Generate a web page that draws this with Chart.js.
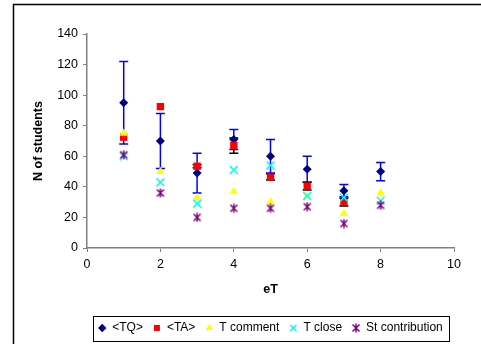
<!DOCTYPE html>
<html>
<head>
<meta charset="utf-8">
<script src="https://cdn.jsdelivr.net/npm/chart.js@4"></script>
<style>
  body { margin: 0; background: #fff; }
  #wrap { width: 481px; height: 344px; }
</style>
</head>
<body>
<div id="wrap"><canvas id="myChart" width="481" height="344"></canvas></div>
<script>
// x positions (eT)
var eT = [1, 2, 3, 4, 5, 6, 7, 8];

// series values
var tq = [95, 70, 49, 71, 60, 51.5, 37.5, 50];
var tqErr = [27, 18, 13, 6.5, 11, 8.5, 4, 6];
var ta = [72.5, 92.5, 53.5, 67, 46.5, 40.5, 30];
var taErr = [0, 0, 1, 5, 2, 2.5, 2.5];
var tComment = [75, 50, 33, 37, 30, 34, 22.5, 36];
var tClose = [60, 43, 29, 51, 54, 34, 33, 31];
var stContribution = [61, 36, 20, 26, 26, 27, 16, 28];

var yTicks = [0, 20, 40, 60, 80, 100, 120, 140];
var xTicks = [0, 2, 4, 6, 8, 10];

function pts(ys) {
    return ys.map(function (y, i) { return { x: eT[i], y: y }; });
}

var fontFamily = "'Liberation Sans', Arial, sans-serif";

// Excel style asterisk marker (x with a vertical stroke)
var asterisk = document.createElement('canvas');
asterisk.width = 10;
asterisk.height = 10;
(function () {
    var c = asterisk.getContext('2d');
    c.strokeStyle = '#800080';
    c.lineWidth = 1.5;
    c.beginPath();
    c.moveTo(1.5, 1.5); c.lineTo(8.5, 8.5);
    c.moveTo(8.5, 1.5); c.lineTo(1.5, 8.5);
    c.moveTo(5, 0.5); c.lineTo(5, 9.5);
    c.stroke();
})();

// error bars drawn under the markers
var errorBars = {
    id: 'errorBars',
    beforeDatasetsDraw: function (chart) {
        var ctx = chart.ctx;
        var xs = chart.scales.x, ys = chart.scales.y;
        var sets = [
            { vals: tq, err: tqErr, color: '#0000ff' },
            { vals: ta, err: taErr, color: '#000000' }
        ];
        ctx.save();
        sets.forEach(function (s) {
            ctx.strokeStyle = s.color;
            ctx.lineWidth = 1.5;
            s.vals.forEach(function (v, i) {
                if (!s.err[i]) return;
                var px = xs.getPixelForValue(eT[i]);
                var top = ys.getPixelForValue(v + s.err[i]);
                var bot = ys.getPixelForValue(v - s.err[i]);
                ctx.beginPath();
                ctx.moveTo(px, top); ctx.lineTo(px, bot);
                ctx.moveTo(px - 4.5, top); ctx.lineTo(px + 4.5, top);
                ctx.moveTo(px - 4.5, bot); ctx.lineTo(px + 4.5, bot);
                ctx.stroke();
            });
        });
        ctx.restore();
    }
};

// outer frame and legend box
var frames = {
    id: 'frames',
    afterDraw: function (chart) {
        var ctx = chart.ctx;
        ctx.save();
        ctx.strokeStyle = '#000';
        ctx.lineWidth = 1.5;
        ctx.strokeRect(13.5, 4.5, chart.width, chart.height);
        var boxes = chart.legend.legendHitBoxes;
        if (boxes && boxes.length) {
            var l = boxes[0].left, r = boxes[boxes.length - 1].left + boxes[boxes.length - 1].width;
            var t = boxes[0].top;
            ctx.lineWidth = 1;
            ctx.strokeRect(Math.round(l) - 4.5, Math.round(t) - 5.5, Math.round(r - l) + 11, 25);
        }
        ctx.restore();
    }
};

var ctx = document.getElementById('myChart').getContext('2d');
var myChart = new Chart(ctx, {
    type: 'scatter',
    data: {
        datasets: [{
            label: '<TQ>',
            data: pts(tq),
            pointStyle: 'rectRot',
            pointRadius: 4.5,
            backgroundColor: '#000080',
            borderColor: '#000080',
            borderWidth: 0,
            order: 5
        },
        {
            label: '<TA>',
            data: pts(ta),
            pointStyle: 'rect',
            pointRadius: 5.2,
            backgroundColor: '#ff0000',
            borderColor: '#ff0000',
            borderWidth: 0,
            order: 4
        },
        {
            label: 'T comment',
            data: pts(tComment),
            pointStyle: 'triangle',
            pointRadius: 4.8,
            backgroundColor: '#ffff00',
            borderColor: '#ffff00',
            borderWidth: 0,
            order: 3
        },
        {
            label: 'T close',
            data: pts(tClose),
            pointStyle: 'crossRot',
            pointRadius: 5.5,
            backgroundColor: '#00ffff',
            borderColor: '#00ffff',
            borderWidth: 1.5,
            order: 2
        },
        {
            label: 'St contribution',
            data: pts(stContribution),
            pointStyle: asterisk,
            pointRadius: 5,
            backgroundColor: '#800080',
            borderColor: '#800080',
            borderWidth: 1.5,
            order: 1
        }]
    },
    options: {
        responsive: false,
        animation: false,
        layout: { padding: { left: 14, right: 27, top: 34, bottom: 0 } },
        plugins: {
            tooltip: { enabled: false },
            legend: {
                position: 'bottom',
                fullSize: false,
                labels: {
                    usePointStyle: true,
                    boxWidth: 8,
                    boxHeight: 6,
                    padding: 10,
                    color: '#000',
                    font: { family: fontFamily, size: 12 },
                    sort: function (a, b) { return a.datasetIndex - b.datasetIndex; }
                }
            }
        },
        scales: {
            x: {
                type: 'linear',
                min: 0,
                max: 10,
                afterFit: function (scale) { scale.height = 64; },
                afterBuildTicks: function (scale) {
                    scale.ticks = xTicks.map(function (v) { return { value: v }; });
                },
                grid: { drawOnChartArea: false, color: '#808080', tickLength: 4 },
                border: { color: '#808080', width: 1.5 },
                ticks: { color: '#000', padding: 5, font: { family: fontFamily, size: 12.5 } },
                title: {
                    display: true,
                    text: 'eT',
                    color: '#000',
                    padding: { top: 0, bottom: 15 },
                    font: { family: fontFamily, size: 12.5, weight: 'bold' }
                }
            },
            y: {
                min: 0,
                max: 140,
                afterFit: function (scale) { scale.width = 73; },
                afterBuildTicks: function (scale) {
                    scale.ticks = yTicks.map(function (v) { return { value: v }; });
                },
                grid: { drawOnChartArea: false, color: '#808080', tickLength: 4 },
                border: { color: '#808080', width: 1.5 },
                ticks: { color: '#000', padding: 5, font: { family: fontFamily, size: 12.5 } },
                title: {
                    display: true,
                    text: 'N of students',
                    color: '#000',
                    padding: { top: 17, bottom: 0 },
                    font: { family: fontFamily, size: 12.5, weight: 'bold' }
                }
            }
        }
    },
    plugins: [errorBars, frames]
});
</script>
</body>
</html>
